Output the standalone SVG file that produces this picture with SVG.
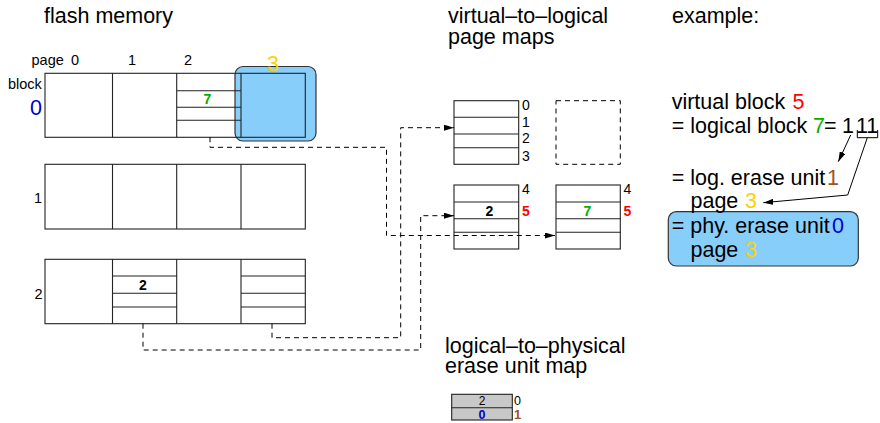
<svg xmlns="http://www.w3.org/2000/svg" width="880" height="423" viewBox="0 0 880 423">
  <style>
    text { font-family: "Liberation Sans", Arial, Helvetica, sans-serif; fill: #000; }
    .h { font-size: 21.5px; }
    .s { font-size: 14.5px; }
    .m { font-size: 14px; }
    .b { font-weight: bold; }
    .red { fill: #ff0000; }
    .grn { fill: #00b000; }
    .ylw { fill: #ffd000; }
    .blu { fill: #0000c8; }
    .brn { fill: #a0521e; }
    .box { fill: none; stroke: #222; stroke-width: 1.1; }
    .ln { stroke: #222; stroke-width: 1.1; fill: none; }
    .hl { fill: #87cefa; stroke: #333; stroke-width: 1.2; }
    .dash { fill: none; stroke: #000; stroke-width: 1; stroke-dasharray: 5 4; }
    .arr { fill: none; stroke: #000; stroke-width: 1; }
  </style>
  <defs>
    <marker id="ah" viewBox="0 0 10 6" refX="10" refY="3" markerWidth="10" markerHeight="6" markerUnits="userSpaceOnUse" orient="auto">
      <path d="M0,0 L10,3 L0,6 z" fill="#000"/>
    </marker>
  </defs>

  <!-- headings -->
  <text class="h" x="44" y="23">flash memory</text>
  <text class="h" x="448" y="23">virtual–to–logical</text>
  <text class="h" x="448" y="43.5">page maps</text>
  <text class="h" x="672" y="23">example:</text>
  <text class="h" x="445" y="353">logical–to–physical</text>
  <text class="h" x="445" y="373">erase unit map</text>

  <!-- page / block captions -->
  <text class="s" x="31.5" y="65">page</text>
  <text class="s" x="71" y="65">0</text>
  <text class="s" x="128" y="65">1</text>
  <text class="s" x="184" y="65">2</text>
  <text class="s" x="8" y="88.5">block</text>

  <!-- erase block 0 -->
  <g id="block0">
    <rect class="hl" x="235" y="66.5" width="81" height="74.5" rx="8"/>
    <text class="h ylw" x="267" y="70.5">3</text>
    <rect class="box" x="45" y="73.3" width="260.3" height="64"/>
    <path class="ln" d="M112.5,73.3V137.3M176.7,73.3V137.3M241,73.3V137.3M176.7,90.7H241M176.7,107.3H241M176.7,120.3H241"/>
    <text class="m b grn" x="207.5" y="104" text-anchor="middle" font-size="15">7</text>
    <text class="h blu" x="30" y="115">0</text>
  </g>

  <!-- erase block 1 -->
  <g id="block1">
    <rect class="box" x="45" y="164.3" width="260.3" height="64.7"/>
    <path class="ln" d="M112.5,164.3V229M176.7,164.3V229M241,164.3V229"/>
    <text class="s" x="34" y="203">1</text>
  </g>

  <!-- erase block 2 -->
  <g id="block2">
    <rect class="box" x="45" y="259.3" width="260.3" height="64.4"/>
    <path class="ln" d="M112.5,259.3V323.7M176.7,259.3V323.7M241,259.3V323.7M112.5,276H176.7M112.5,293.3H176.7M112.5,307H176.7M241,276H305.3M241,293.3H305.3M241,307H305.3"/>
    <text class="m b" x="143" y="289.5" text-anchor="middle" font-size="15">2</text>
    <text class="s" x="34.5" y="299">2</text>
  </g>

  <!-- virtual-to-logical page map, pages 0-3 -->
  <g id="map-low">
    <rect class="box" x="454" y="100.7" width="64.7" height="63.6"/>
    <path class="ln" d="M454,117.3H518.7M454,134H518.7M454,147.7H518.7"/>
    <text class="m" x="522" y="110">0</text>
    <text class="m" x="522" y="126.7">1</text>
    <text class="m" x="522" y="143.3">2</text>
    <text class="m" x="522" y="161">3</text>
  </g>

  <!-- unallocated map -->
  <g id="map-empty">
    <rect class="dash" x="556" y="100.7" width="64.3" height="63.6"/>
  </g>

  <!-- virtual-to-logical page map, pages 4-7 (old) -->
  <g id="map-high-a">
    <rect class="box" x="454" y="185" width="64.7" height="64"/>
    <path class="ln" d="M454,202H518.7M454,218.7H518.7M454,232.3H518.7"/>
    <text class="m b" x="489.5" y="215.7" text-anchor="middle" font-size="15">2</text>
    <text class="m" x="522" y="194">4</text>
    <text class="m b red" x="522" y="215.7" font-size="15">5</text>
  </g>

  <!-- virtual-to-logical page map, pages 4-7 (new) -->
  <g id="map-high-b">
    <rect class="box" x="556" y="185" width="64.3" height="64"/>
    <path class="ln" d="M556,202H620.3M556,218.7H620.3M556,232.3H620.3"/>
    <text class="m b grn" x="587.5" y="215.7" text-anchor="middle" font-size="15">7</text>
    <text class="m" x="623.5" y="194">4</text>
    <text class="m b red" x="623.5" y="215.7" font-size="15">5</text>
  </g>

  <!-- logical-to-physical erase unit map -->
  <g id="unit-map">
    <rect x="451.7" y="394.3" width="60.6" height="25.7" fill="#c8c8c8" stroke="#222" stroke-width="1.1"/>
    <path class="ln" d="M451.7,407.7H512.3"/>
    <text x="482" y="405" text-anchor="middle" font-size="12">2</text>
    <text class="b blu" x="482" y="418.5" text-anchor="middle" font-size="12.5">0</text>
    <text x="514" y="405" font-size="12.5">0</text>
    <text class="b brn" x="514" y="418.5" font-size="13">1</text>
  </g>

  <!-- connectors -->
  <g id="connectors">
    <path class="dash" d="M210,137.3V147.3H386.5V235.5H555" marker-end="url(#ah)"/>
    <path class="dash" d="M143,323.7V350H420.7V215.7H454" marker-end="url(#ah)"/>
    <path class="dash" d="M272,323.7V337.7H400.7V127.7H454" marker-end="url(#ah)"/>
  </g>

  <!-- worked example -->
  <g id="example">
    <rect class="hl" x="668.3" y="211.7" width="190" height="54.3" rx="8"/>
    <text class="h" x="671.7" y="109">virtual block</text>
    <text class="h red" x="792.5" y="109">5</text>
    <text class="h" x="671.7" y="133.3">= logical block</text>
    <text class="h grn" x="813" y="133.3">7</text>
    <text class="h" x="824" y="133.3">=</text>
    <text class="h" x="842" y="133.3">1</text>
    <text class="h" x="856" y="133.3">11</text>
    <path class="arr" d="M857.3,130V137.7H877.7V130"/>
    <path class="arr" d="M850.7,135L838.3,161.7" marker-end="url(#ah)"/>
    <path class="arr" d="M867.3,137.7L847.7,195L763.3,202.7" marker-end="url(#ah)"/>
    <text class="h" x="671.7" y="184.5">= log. erase unit</text>
    <text class="h brn" x="827" y="184.5">1</text>
    <text class="h" x="690.5" y="208">page</text>
    <text class="h ylw" x="745" y="208">3</text>
    <text class="h" x="671.7" y="232.5">= phy. erase unit</text>
    <text class="h blu" x="832" y="232.5">0</text>
    <text class="h" x="690.5" y="257">page</text>
    <text class="h ylw" x="745" y="257">3</text>
  </g>
</svg>
